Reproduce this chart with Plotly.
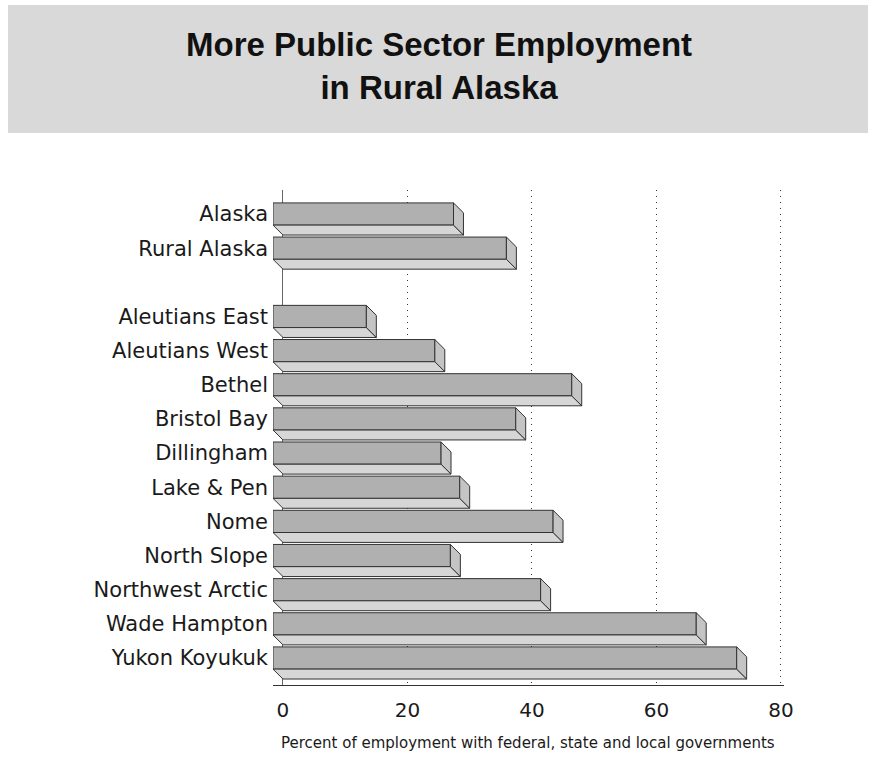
import plotly.graph_objects as go

# ---- data ----
categories = ["Alaska", "Rural Alaska", "Aleutians East", "Aleutians West", "Bethel",
              "Bristol Bay", "Dillingham", "Lake & Pen", "Nome", "North Slope",
              "Northwest Arctic", "Wade Hampton", "Yukon Koyukuk"]
values = [29, 37.5, 15, 26, 48, 39, 27, 30, 45, 28.5, 43, 68, 74.5]
positions = [0, 1, 3, 4, 5, 6, 7, 8, 9, 10, 11, 12, 13]
x_ticks = [0, 20, 40, 60, 80]
title_text = "More Public Sector Employment<br>in Rural Alaska"
x_title = "Percent of employment with federal, state and local governments"

# ---- geometry / style ----
W, Hh = 876, 757
L, R, T, B = 273, 92, 190, 72
pw, ph = W - L - R, Hh - T - B
DX = 1.6          # depth offset in x units
DY = 0.29         # depth offset in y units
HALF = 0.325      # half bar thickness
XR = [-DX, 80.5]
YR = [13.79, -0.703]

FRONT = "#b0b0b0"
BOTTOM = "#d6d6d6"
SIDE = "#c4c4c4"
EDGE = "#333333"

fig = go.Figure()

# front faces (bars)
fig.add_trace(go.Bar(
    y=positions, x=values, base=[-DX] * len(values), orientation="h",
    width=2 * HALF, marker=dict(color=FRONT, line=dict(color=EDGE, width=1)),
    hoverinfo="skip", showlegend=False))

# bottom faces
bx, by = [], []
for v, p in zip(values, positions):
    bx += [-DX, v - DX, v, 0, -DX, None]
    by += [p + HALF, p + HALF, p + HALF + DY, p + HALF + DY, p + HALF, None]
fig.add_trace(go.Scatter(x=bx, y=by, mode="lines", fill="toself", fillcolor=BOTTOM,
                         line=dict(color=EDGE, width=1), hoverinfo="skip", showlegend=False))

# side faces
sx, sy = [], []
for v, p in zip(values, positions):
    sx += [v - DX, v, v, v - DX, v - DX, None]
    sy += [p - HALF, p - HALF + DY, p + HALF + DY, p + HALF, p - HALF, None]
fig.add_trace(go.Scatter(x=sx, y=sy, mode="lines", fill="toself", fillcolor=SIDE,
                         line=dict(color=EDGE, width=1), hoverinfo="skip", showlegend=False))

def px_x(p):
    return (p - L) / pw

def px_y(p):
    return (T + ph - p) / ph

fig.update_layout(
    width=W, height=Hh,
    margin=dict(l=L, r=R, t=T, b=B),
    paper_bgcolor="white", plot_bgcolor="white",
    font=dict(family="DejaVu Sans", color="#1a1a1a"),
    xaxis=dict(range=XR, tickvals=x_ticks, ticktext=[str(t) for t in x_ticks],
               showgrid=True, gridcolor="#333333", griddash="1px,5px", gridwidth=1.2,
               zeroline=True, zerolinecolor="#666666", zerolinewidth=1,
               showline=True, linecolor="#333333", linewidth=1,
               ticks="", ticklabelstandoff=7,
               tickfont=dict(family="DejaVu Sans", size=20, color="#1a1a1a")),
    yaxis=dict(range=YR, tickvals=positions, ticktext=categories,
               showgrid=False, zeroline=False, showline=False, ticks="",
               ticklabelstandoff=4,
               tickfont=dict(family="DejaVu Sans", size=21, color="#1a1a1a")),
    shapes=[dict(type="rect", xref="paper", yref="paper",
                 x0=px_x(8), x1=px_x(868), y0=px_y(133), y1=px_y(5),
                 fillcolor="#d9d9d9", line=dict(width=0), layer="below")],
    annotations=[
        dict(text="<b>" + title_text + "</b>", xref="paper", yref="paper",
             x=px_x(439), y=px_y(66), xanchor="center", yanchor="middle",
             showarrow=False,
             font=dict(family="Liberation Sans", size=33, color="#111111")),
        dict(text=x_title, xref="paper", yref="paper",
             x=px_x(528), y=px_y(743), xanchor="center", yanchor="middle",
             showarrow=False,
             font=dict(family="DejaVu Sans", size=15, color="#1a1a1a")),
    ],
)

fig.write_html("out.html", config={"displayModeBar": False},
               post_script="document.body.style.margin='0';document.body.style.padding='0';")
